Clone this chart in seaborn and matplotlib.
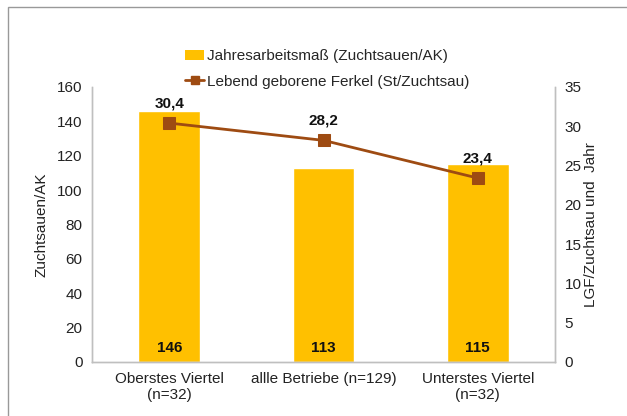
import pandas as pd
import matplotlib.pyplot as plt
import seaborn as sns
from matplotlib.patches import Rectangle
from matplotlib.lines import Line2D
from matplotlib.patches import Patch

# Daten
kategorien = ['Oberstes Viertel\n(n=32)', 'allle Betriebe (n=129)', 'Unterstes Viertel\n(n=32)']
zuchtsauen_ak = [146, 113, 115]
lgf = [30.4, 28.2, 23.4]

data = pd.DataFrame({'Gruppe': kategorien, 'ZS_AK': zuchtsauen_ak, 'LGF': lgf})

sns.set_style('white')
plt.rcParams['font.family'] = ['Liberation Sans', 'DejaVu Sans']

gelb = '#FFC000'
braun = '#9E4B12'
grau = '#BFBFBF'
fs = 11

fig = plt.figure(figsize=(6.27, 4.16), dpi=100)
ax = fig.add_axes([0.147, 0.130, 0.738, 0.661])

sns.barplot(data=data, x='Gruppe', y='ZS_AK', color=gelb, width=0.4,
            saturation=1, ax=ax)
ax.set_ylim(0, 160)
ax.set_yticks(range(0, 161, 20))
ax.set_xlabel('')
ax.set_ylabel('Zuchtsauen/AK', fontsize=fs, color='#222222', labelpad=6)
ax.tick_params(axis='both', labelsize=fs, colors='#222222', length=0, pad=7)
ax.set_xlim(-0.5, 2.5)

# Werte in den Balken
for i, v in enumerate(zuchtsauen_ak):
    ax.text(i, 8, str(v), ha='center', va='center', fontsize=fs,
            fontweight='bold', color='#111111')

ax2 = ax.twinx()
sns.lineplot(data=data, x='Gruppe', y='LGF', color=braun, marker='s',
             markersize=8.5, markeredgecolor=braun, linewidth=2, ax=ax2,
             sort=False)
ax2.set_ylim(0, 35)
ax2.set_yticks(range(0, 36, 5))
ax2.set_ylabel('LGF/Zuchtsau und  Jahr', fontsize=fs, color='#222222', labelpad=2)
ax2.tick_params(axis='y', labelsize=fs, colors='#222222', length=0, pad=7)
ax2.set_xlim(-0.5, 2.5)

for i, v in enumerate(lgf):
    ax2.text(i, v + 1.6, f'{v:.1f}'.replace('.', ','), ha='center',
             va='bottom', fontsize=fs, fontweight='bold', color='#111111')

for a in (ax, ax2):
    for s in ['left', 'bottom', 'right']:
        a.spines[s].set_color(grau)
        a.spines[s].set_linewidth(1)
    a.spines['top'].set_visible(False)

# Legende
handles = [Patch(facecolor=gelb, edgecolor='none'),
           Line2D([0], [0], color=braun, marker='s', markersize=6, linewidth=2)]
labels = ['Jahresarbeitsmaß (Zuchtsauen/AK)', 'Lebend geborene Ferkel (St/Zuchtsau)']
fig.legend(handles, labels, loc='center', bbox_to_anchor=(0.522, 0.834),
           frameon=False, fontsize=fs, handlelength=1.2, handletextpad=0.2,
           labelspacing=0.75)

# Rahmen um die Grafik
fig.add_artist(Rectangle((8 / 627, -0.1), 1.1, 1 - 7 / 416 + 0.1,
                         transform=fig.transFigure, fill=False,
                         edgecolor='#999999', linewidth=1))

plt.savefig('out.png', dpi=100)
